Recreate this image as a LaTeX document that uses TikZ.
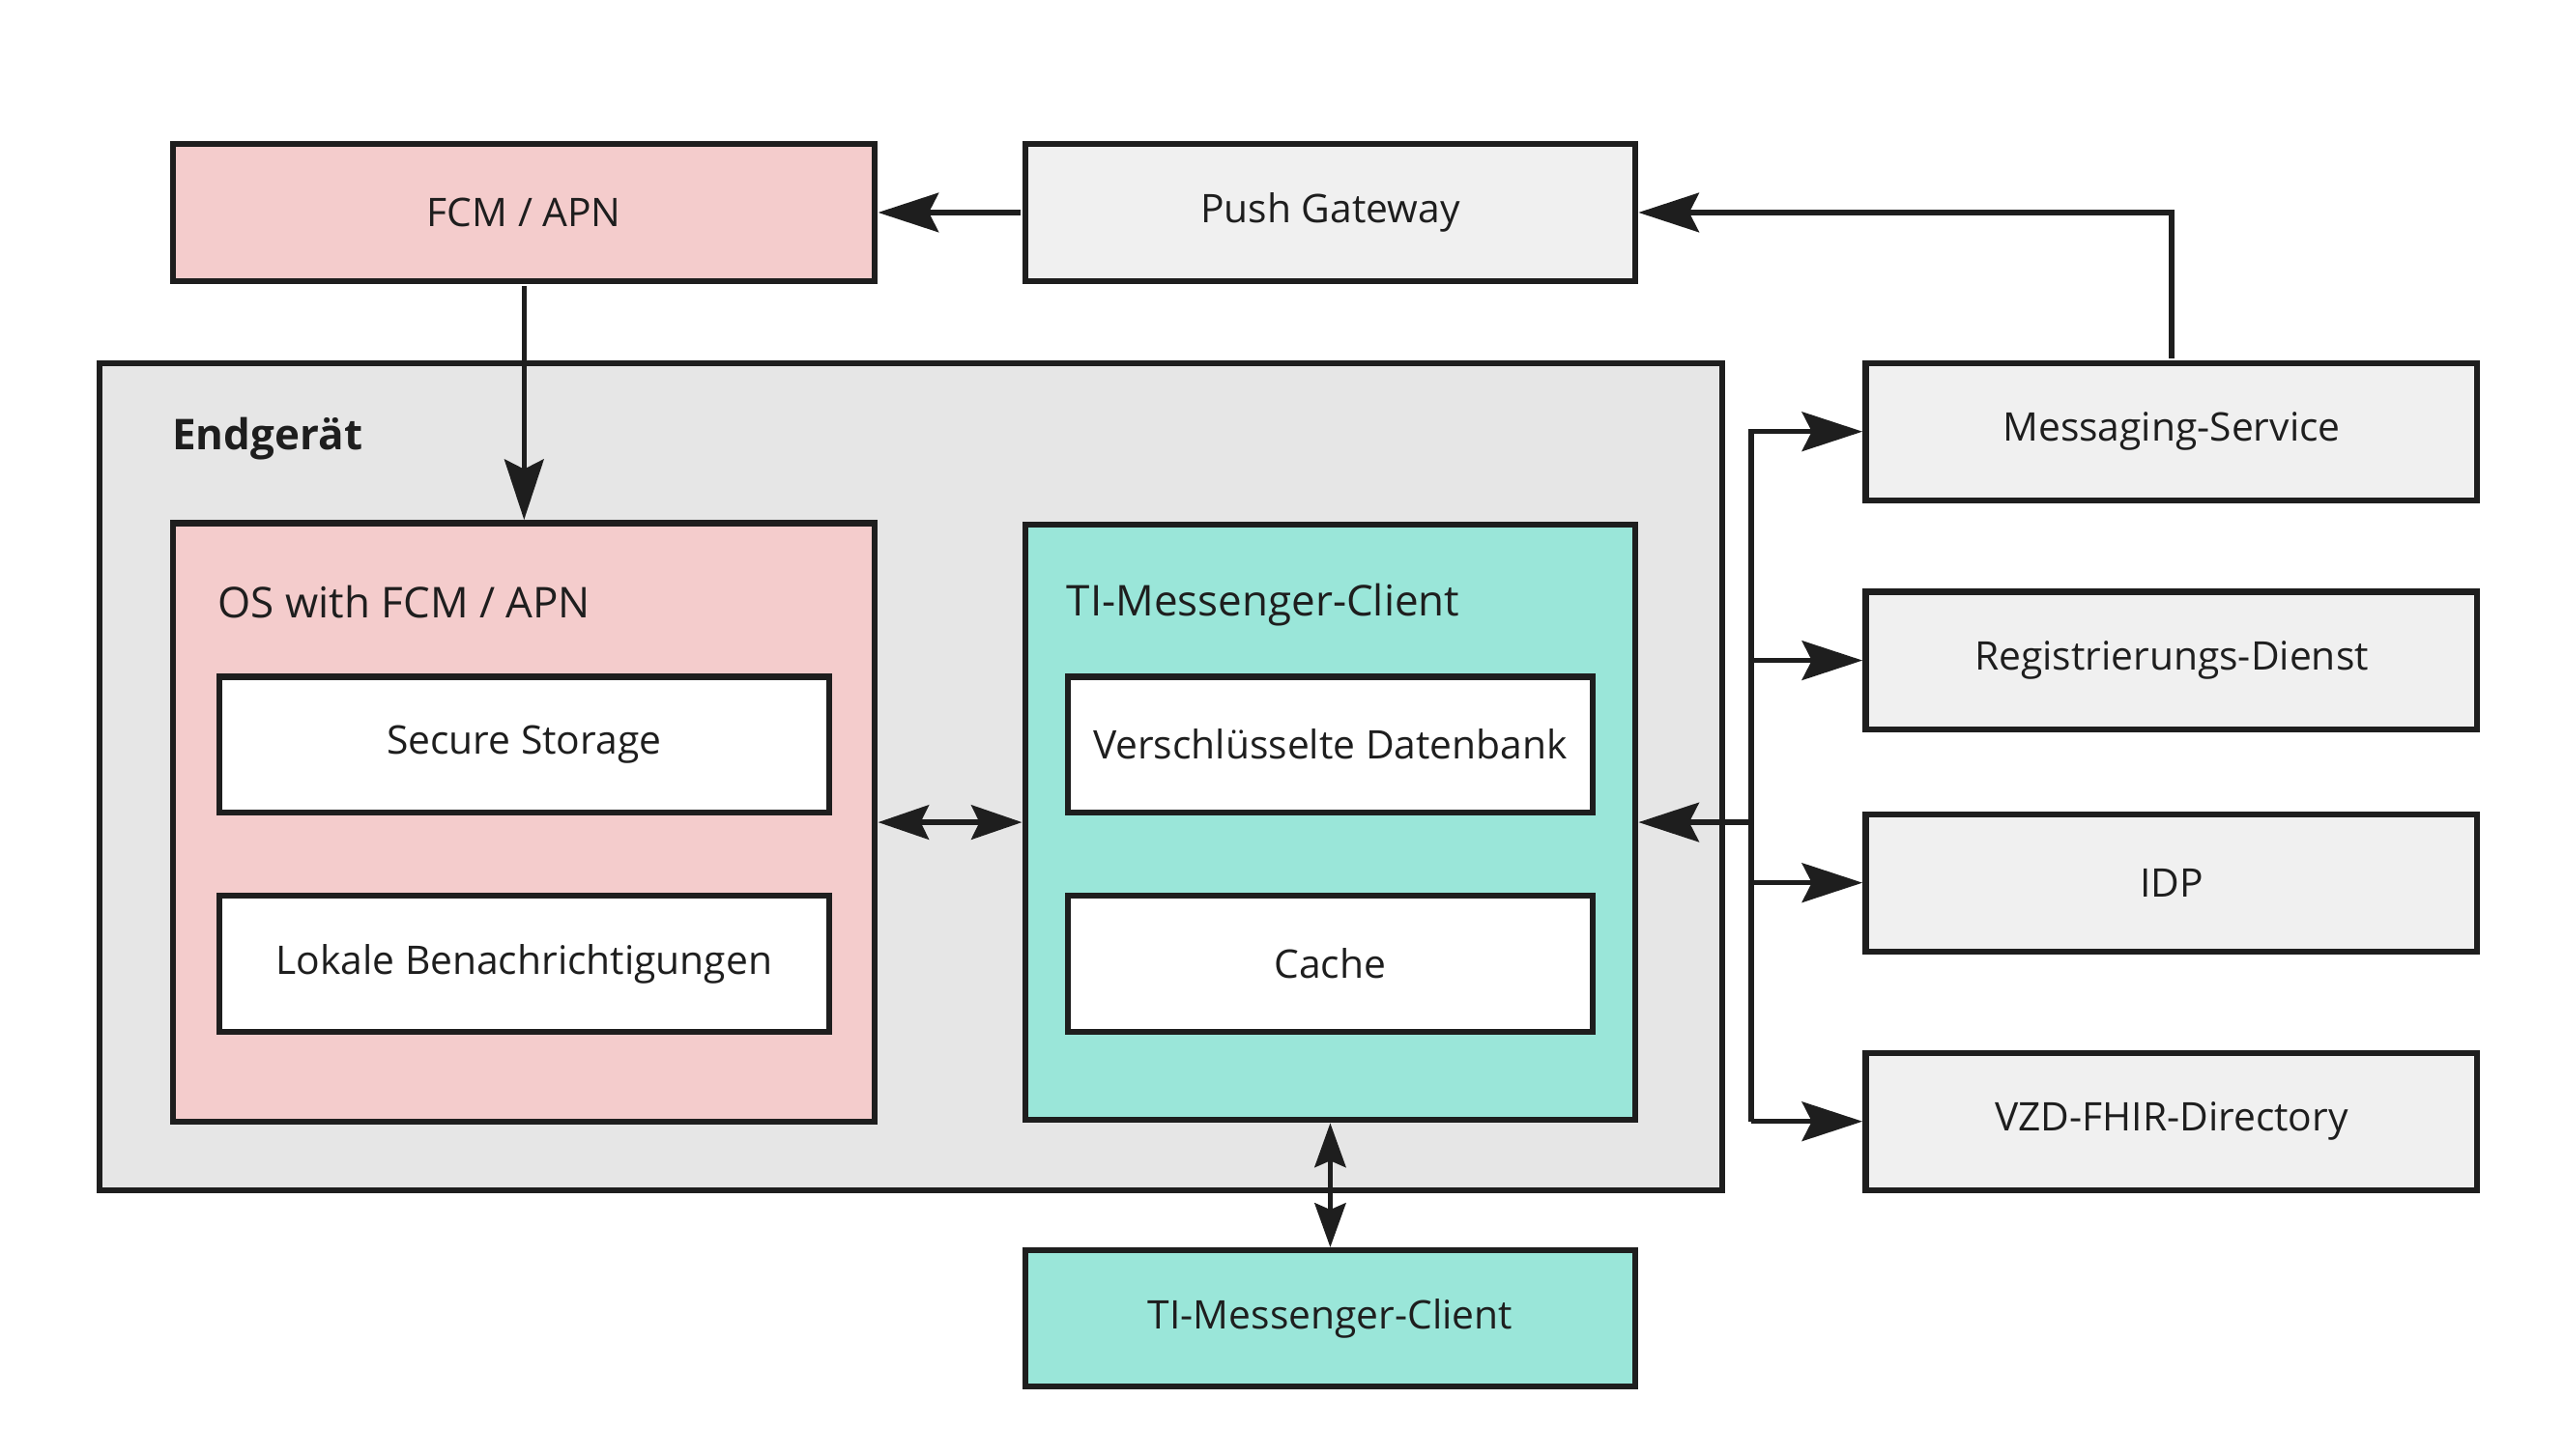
\documentclass[tikz,border=0pt]{standalone}
\usepackage{fontspec}
\setmainfont{Open Sans}
\usetikzlibrary{arrows.meta}
\definecolor{ink}{HTML}{1E1E1E}
\definecolor{pinkfill}{HTML}{F4CCCC}
\definecolor{lightgray}{HTML}{F0F0F0}
\definecolor{outergray}{HTML}{E6E6E6}
\definecolor{tealfill}{HTML}{9AE6D9}
\def\u{0.01692cm}
\tikzset{
  box/.style={draw=ink, line width=1.75pt, inner sep=0pt, outer sep=0pt, text=ink,
    font=\fontsize{11.6}{14}\selectfont},
  arr/.style={draw=ink, line width=1.5pt,
    -{Stealth[length=37*\u, width=24*\u, inset=6*\u]},
    shorten >=2*\u, shorten <=3*\u},
  darrh/.style={draw=ink, line width=1.5pt,
    {Stealth[length=31*\u, width=21*\u, inset=5*\u]}-{Stealth[length=31*\u, width=21*\u, inset=5*\u]},
    shorten >=2*\u, shorten <=2*\u},
  darrv/.style={draw=ink, line width=1.5pt,
    {Stealth[length=27*\u, width=19*\u, inset=4*\u]}-{Stealth[length=27*\u, width=19*\u, inset=4*\u]},
    shorten >=2*\u, shorten <=2*\u},
  lbl/.style={anchor=west, text=ink, font=\fontsize{12.5}{15}\selectfont, inner sep=0pt}
}
\begin{document}
\begin{tikzpicture}[x=0.01692cm, y=-0.01692cm]
\useasboundingbox[fill=white] (0,0) rectangle (1568,890.66);
% outer device
\node[box, fill=outergray, minimum width=992*\u, minimum height=506*\u] (dev) at (557,475) {};
\node[lbl, font=\fontsize{12.5}{15}\selectfont\bfseries] (devlbl) at (105,268.5) {Endgerät};
% top row
\node[box, fill=pinkfill, minimum width=429*\u, minimum height=84*\u] (fcm) at (320.5,130) {FCM / APN};
\node[box, fill=lightgray, minimum width=373*\u, minimum height=84*\u] (push) at (813.5,130) {Push Gateway};
% OS box
\node[box, fill=pinkfill, minimum width=429*\u, minimum height=366*\u] (os) at (320.5,503) {};
\node[lbl] (oslbl) at (133,368) {OS with FCM / APN};
\node[box, fill=white, minimum width=373*\u, minimum height=83*\u] (sec) at (320.5,455.5) {Secure Storage};
\node[box, fill=white, minimum width=373*\u, minimum height=83*\u] (lok) at (320.5,589.5) {Lokale Benachrichtigungen};
% TI client
\node[box, fill=tealfill, minimum width=373*\u, minimum height=364*\u] (ti) at (813.5,503) {};
\node[lbl] (tilbl) at (652,370) {TI-Messenger-Client};
\node[box, fill=white, minimum width=321*\u, minimum height=83*\u] (db) at (813.5,455.5) {Verschlüsselte Datenbank};
\node[box, fill=white, minimum width=321*\u, minimum height=83*\u] (cache) at (813.5,589.5) {Cache};
% bottom client
\node[box, fill=tealfill, minimum width=373*\u, minimum height=83*\u] (tib) at (813.5,806.5) {TI-Messenger-Client};
% services
\node[box, fill=lightgray, minimum width=374*\u, minimum height=84*\u] (msg) at (1328,264) {Messaging-Service};
\node[box, fill=lightgray, minimum width=374*\u, minimum height=84*\u] (reg) at (1328,404) {Registrierungs-Dienst};
\node[box, fill=lightgray, minimum width=374*\u, minimum height=84*\u] (idp) at (1328,540) {IDP};
\node[box, fill=lightgray, minimum width=374*\u, minimum height=84*\u] (vzd) at (1328,686) {VZD-FHIR-Directory};
% connectors
\draw[arr] (push.west) -- (fcm.east);
\draw[arr] (msg.north) |- (push.east);
\draw[arr] (fcm.south) -- (os.north);
\draw[darrh] (os.east) -- (ti.west);
\draw[darrv] (ti.south) -- (tib.north);
\coordinate (bustop) at (1071,264);
\draw[arr, shorten <=0pt] (bustop |- vzd.west) -- (bustop) -- (msg.west);
\draw[arr, shorten <=0pt] (bustop |- vzd.west) -- (vzd.west);
\draw[arr, shorten <=0pt] (bustop |- reg.west) -- (reg.west);
\draw[arr, shorten <=0pt] (bustop |- idp.west) -- (idp.west);
\draw[arr, shorten <=0pt] (bustop |- ti.east) -- (ti.east);
\end{tikzpicture}
\end{document}
